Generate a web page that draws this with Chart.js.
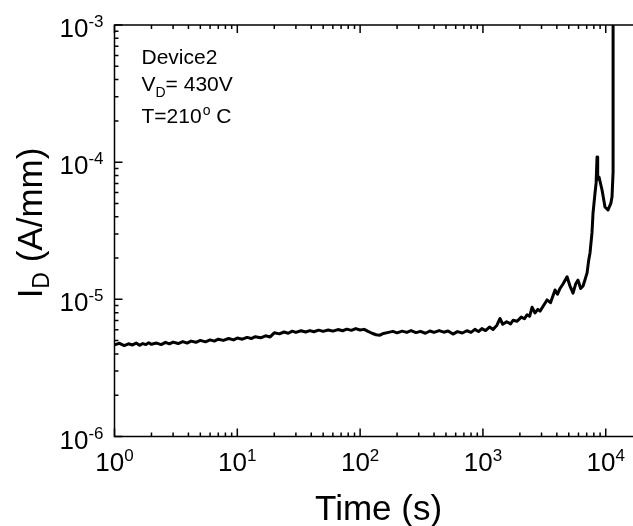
<!DOCTYPE html>
<html>
<head>
<meta charset="utf-8">
<script src="https://cdn.jsdelivr.net/npm/chart.js@4.4.1/dist/chart.umd.min.js"></script>
<style>
  html, body { margin: 0; padding: 0; background: #fff; overflow: hidden; }
  #wrap { width: 660px; height: 526px; position: relative; }
</style>
</head>
<body>
<div id="wrap"><canvas id="chart"></canvas></div>
<script>
// ---- data ----
const timeS = [
  1, 1.1, 1.2, 1.3, 1.4, 1.5, 1.6, 1.7, 1.8, 1.9, 2.0, 2.2, 2.4, 2.6, 2.8, 3.0, 3.3, 3.6, 3.9, 4.2,
  4.6, 5.0, 5.5, 6.0, 6.5, 7.0, 7.7, 8.5, 9.3, 10, 11, 12, 13, 14, 15.5, 17, 18.5, 20, 22, 24,
  26, 28, 30, 33, 36, 39, 42, 46, 50, 55, 60, 66, 72, 78, 85, 92, 100, 108, 116, 125,
  135, 145, 155, 170, 185, 200, 220, 240, 260, 285, 310, 340, 370, 400, 440, 480, 520, 570, 620, 680,
  740, 800, 860, 920, 980, 1050, 1130, 1210, 1300, 1378, 1450, 1560, 1680, 1760, 1900, 2050, 2180, 2286, 2400, 2512,
  2650, 2800, 2918, 3100, 3327, 3550, 3866, 4050, 4246, 4500, 4842, 5100, 5418, 5700, 5946, 6250, 6535, 6800, 7047, 7250,
  7447, 7727, 7882, 8183, 8350, 8495, 8600, 8818, 9333, 9863, 10440, 11000, 11250, 11470, 11480
];
const currentA = [
  4.66e-6, 4.78e-6, 4.60e-6, 4.74e-6, 4.65e-6, 4.80e-6, 4.62e-6, 4.76e-6, 4.68e-6, 4.82e-6,
  4.70e-6, 4.80e-6, 4.68e-6, 4.86e-6, 4.74e-6, 4.88e-6, 4.76e-6, 4.92e-6, 4.80e-6, 4.96e-6,
  4.86e-6, 5.02e-6, 4.90e-6, 5.06e-6, 4.96e-6, 5.12e-6, 5.02e-6, 5.18e-6, 5.06e-6, 5.22e-6,
  5.12e-6, 5.28e-6, 5.18e-6, 5.34e-6, 5.24e-6, 5.42e-6, 5.32e-6, 5.70e-6, 5.60e-6, 5.78e-6,
  5.66e-6, 5.86e-6, 5.74e-6, 5.90e-6, 5.78e-6, 5.92e-6, 5.80e-6, 5.96e-6, 5.84e-6, 5.98e-6,
  5.86e-6, 6.02e-6, 5.90e-6, 6.06e-6, 5.94e-6, 6.12e-6, 5.98e-6, 6.04e-6, 5.84e-6, 5.66e-6,
  5.52e-6, 5.48e-6, 5.64e-6, 5.74e-6, 5.84e-6, 5.70e-6, 5.86e-6, 5.74e-6, 5.92e-6, 5.72e-6,
  5.84e-6, 5.66e-6, 5.88e-6, 5.74e-6, 5.92e-6, 5.76e-6, 5.88e-6, 5.58e-6, 5.82e-6, 5.68e-6,
  5.90e-6, 5.74e-6, 6.04e-6, 5.82e-6, 6.12e-6, 5.92e-6, 6.28e-6, 6.04e-6, 6.48e-6, 7.25e-6,
  6.58e-6, 6.86e-6, 6.62e-6, 7.04e-6, 6.92e-6, 7.42e-6, 7.22e-6, 7.72e-6, 7.52e-6, 8.75e-6,
  7.96e-6, 8.45e-6, 8.20e-6, 8.95e-6, 9.90e-6, 9.45e-6, 1.17e-5, 1.09e-5, 1.20e-5, 1.30e-5,
  1.46e-5, 1.26e-5, 1.11e-5, 1.30e-5, 1.38e-5, 1.20e-5, 1.25e-5, 1.40e-5, 1.56e-5, 1.90e-5,
  2.18e-5, 3.05e-5, 4.27e-5, 5.97e-5, 7.06e-5, 1.09e-4, 7.50e-5, 7.80e-5, 6.27e-5, 4.71e-5,
  4.48e-5, 5.00e-5, 5.57e-5, 8.34e-5, 1.0e-3
];

// axes
const X_MIN = 1, X_MAX = 2e4;
const Y_MIN = 1e-6, Y_MAX = 1e-3;
const xDecades = [1, 10, 100, 1000, 10000];
const xExpLabels = ['0', '1', '2', '3', '4'];
const yDecades = [1e-6, 1e-5, 1e-4, 1e-3];
const yExpLabels = ['-6', '-5', '-4', '-3'];

const FAM = "'Liberation Sans', Arial, sans-serif";

function minorTicks(decades, max) {
  const out = [];
  decades.forEach(d => {
    for (let k = 2; k <= 9; k++) if (d * k <= max) out.push(d * k);
  });
  return out;
}

function drawPow(ctx, exp, x, base, align) {
  ctx.font = `26px ${FAM}`;
  const w1 = ctx.measureText('10').width;
  ctx.font = `17px ${FAM}`;
  const w2 = ctx.measureText(exp).width;
  const left = align === 'center' ? x - (w1 + w2) / 2 : x - w1 - w2;
  ctx.textAlign = 'left';
  ctx.textBaseline = 'alphabetic';
  ctx.font = `26px ${FAM}`;
  ctx.fillText('10', left, base);
  ctx.font = `17px ${FAM}`;
  ctx.fillText(exp, left + w1, base - 10);
}

// frame, inward ticks on all four sides, labels and annotation
const framePlugin = {
  id: 'frame',
  afterDraw(chart) {
    const { ctx, chartArea: a, scales: { x, y } } = chart;
    ctx.save();
    ctx.strokeStyle = '#000';
    ctx.fillStyle = '#000';
    ctx.lineWidth = 1.5;
    ctx.strokeRect(a.left, a.top, a.right - a.left, a.bottom - a.top);

    const MAJ = 8, MIN = 4;
    ctx.beginPath();
    const xTick = (v, len) => {
      const px = x.getPixelForValue(v);
      ctx.moveTo(px, a.bottom); ctx.lineTo(px, a.bottom - len);
      ctx.moveTo(px, a.top); ctx.lineTo(px, a.top + len);
    };
    const yTick = (v, len) => {
      const py = y.getPixelForValue(v);
      ctx.moveTo(a.left, py); ctx.lineTo(a.left + len, py);
      ctx.moveTo(a.right, py); ctx.lineTo(a.right - len, py);
    };
    xDecades.forEach(v => xTick(v, MAJ));
    minorTicks(xDecades, X_MAX).forEach(v => xTick(v, MIN));
    yDecades.forEach(v => yTick(v, MAJ));
    minorTicks(yDecades.slice(0, 3), Y_MAX).forEach(v => yTick(v, MIN));
    ctx.stroke();

    // tick labels
    xDecades.forEach((v, i) => drawPow(ctx, xExpLabels[i], x.getPixelForValue(v), 471, 'center'));
    yDecades.forEach((v, i) => drawPow(ctx, yExpLabels[i], a.left - 11, y.getPixelForValue(v) + 12, 'right'));

    // axis titles
    ctx.font = `35px ${FAM}`;
    ctx.textAlign = 'center';
    ctx.fillText('Time (s)', (a.left + a.right) / 2, 520);

    ctx.save();
    ctx.translate(42, 223);
    ctx.rotate(-Math.PI / 2);
    ctx.textAlign = 'left';
    ctx.font = `35px ${FAM}`;
    const wI = ctx.measureText('I').width;
    const wRest = ctx.measureText(' (A/mm)').width;
    ctx.font = `23px ${FAM}`;
    const wD = ctx.measureText('D').width;
    let sx = -(wI + wD + wRest) / 2;
    ctx.font = `35px ${FAM}`;
    ctx.fillText('I', sx, 0);
    ctx.font = `23px ${FAM}`;
    ctx.fillText('D', sx + wI, 7);
    ctx.font = `35px ${FAM}`;
    ctx.fillText(' (A/mm)', sx + wI + wD, 0);
    ctx.restore();

    // annotation
    ctx.textAlign = 'left';
    ctx.font = `21px ${FAM}`;
    ctx.fillText('Device2', 141.5, 64);
    ctx.fillText('V', 141.5, 90.5);
    let cx = 141.5 + ctx.measureText('V').width;
    ctx.font = `14px ${FAM}`;
    ctx.fillText('D', cx, 97);
    cx += ctx.measureText('D').width;
    ctx.font = `21px ${FAM}`;
    ctx.fillText('= 430V', cx, 90.5);

    ctx.fillText('T=210', 141.5, 122.5);
    cx = 141.5 + ctx.measureText('T=210').width + 1;
    ctx.font = `14px ${FAM}`;
    ctx.fillText('o', cx, 115);
    cx += ctx.measureText('o').width;
    ctx.font = `21px ${FAM}`;
    ctx.fillText(' C', cx, 122.5);
    ctx.restore();
  }
};

const points = timeS.map((t, i) => ({ x: t, y: currentA[i] }));

new Chart(document.getElementById('chart').getContext('2d'), {
  type: 'line',
  data: {
    datasets: [{
      data: points,
      borderColor: '#000',
      borderWidth: 3,
      borderJoinStyle: 'round',
      pointRadius: 0,
      tension: 0,
      fill: false,
    }],
  },
  options: {
    responsive: true,
    maintainAspectRatio: false,
    animation: false,
    layout: { padding: { left: 114.5, right: 17.3, top: 25, bottom: 89.5 } },
    plugins: { legend: { display: false }, tooltip: { enabled: false } },
    scales: {
      x: { type: 'logarithmic', min: X_MIN, max: X_MAX, display: false },
      y: { type: 'logarithmic', min: Y_MIN, max: Y_MAX, display: false },
    },
  },
  plugins: [framePlugin],
});
</script>
</body>
</html>
